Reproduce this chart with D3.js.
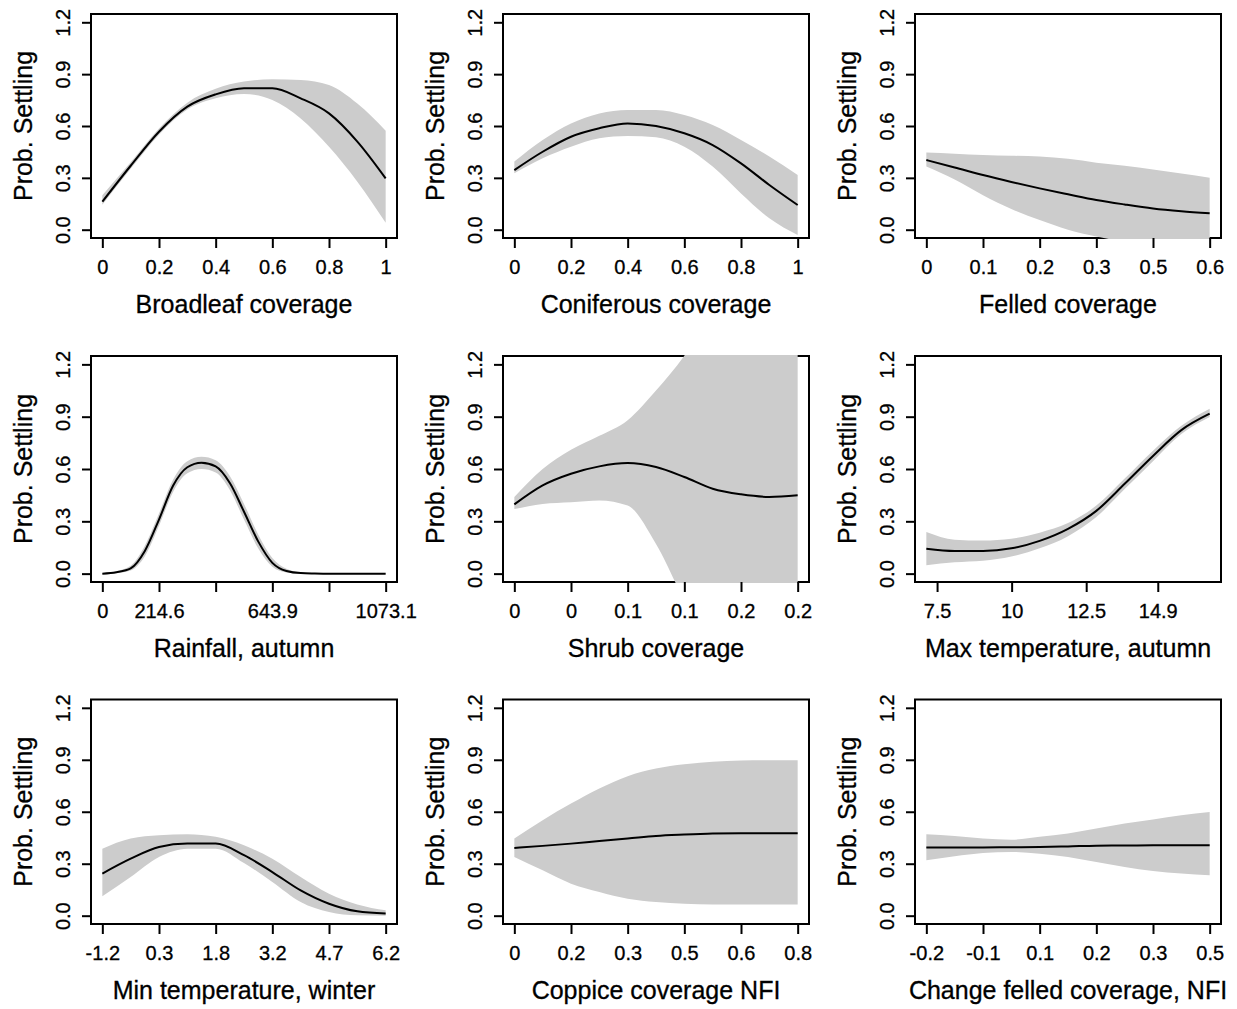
<!DOCTYPE html>
<html>
<head>
<meta charset="utf-8">
<script src="https://cdn.jsdelivr.net/npm/d3@7"></script>
<style>
  html, body { margin: 0; padding: 0; background: #fff; }
  svg { display: block; }
  text { font-family: "Liberation Sans", Arial, sans-serif; fill: #000; }
</style>
</head>
<body>
<svg id="chart" width="1237" height="1009"></svg>
<script>
// ---------------- DATA ----------------
const yTicks = [0.0, 0.3, 0.6, 0.9, 1.2];
const yTickLabels = ["0.0", "0.3", "0.6", "0.9", "1.2"];
const yLabel = "Prob. Settling";

// 1. Broadleaf coverage
const broadleafX   = [0, 0.1, 0.2, 0.3, 0.4, 0.5, 0.6, 0.7, 0.8, 0.9, 1.0];
const broadleafFit = [0.162, 0.37, 0.567, 0.712, 0.783, 0.818, 0.818, 0.76, 0.673, 0.51, 0.297];
const broadleafHi  = [0.2, 0.39, 0.585, 0.735, 0.815, 0.857, 0.87, 0.866, 0.837, 0.73, 0.573];
const broadleafLo  = [0.145, 0.352, 0.55, 0.695, 0.76, 0.785, 0.75, 0.644, 0.48, 0.278, 0.04];
const broadleafTicks  = [0, 0.2, 0.4, 0.6, 0.8, 1];
const broadleafLabels = ["0", "0.2", "0.4", "0.6", "0.8", "1"];

// 2. Coniferous coverage
const coniferousX   = [0, 0.1, 0.2, 0.3, 0.4, 0.5, 0.6, 0.7, 0.8, 0.9, 1.0];
const coniferousFit = [0.345, 0.451, 0.538, 0.587, 0.615, 0.6, 0.558, 0.49, 0.384, 0.259, 0.143];
const coniferousHi  = [0.394, 0.519, 0.615, 0.673, 0.693, 0.693, 0.664, 0.606, 0.519, 0.423, 0.316];
const coniferousLo  = [0.326, 0.413, 0.48, 0.529, 0.542, 0.535, 0.48, 0.365, 0.21, 0.066, -0.031];
const coniferousTicks  = [0, 0.2, 0.4, 0.6, 0.8, 1];
const coniferousLabels = ["0", "0.2", "0.4", "0.6", "0.8", "1"];

// 3. Felled coverage
const felledX   = [0, 0.058, 0.116, 0.174, 0.232, 0.29, 0.348, 0.406, 0.464, 0.522, 0.58];
const felledFit = [0.403, 0.36, 0.316, 0.276, 0.239, 0.205, 0.172, 0.146, 0.123, 0.107, 0.095];
const felledHi  = [0.446, 0.44, 0.432, 0.428, 0.423, 0.41, 0.388, 0.37, 0.349, 0.325, 0.301];
const felledLo  = [0.365, 0.29, 0.2, 0.12, 0.056, 0.0, -0.04, -0.07, -0.1, -0.13, -0.16];
const felledTicks  = [0, 0.116, 0.232, 0.348, 0.464, 0.58];
const felledLabels = ["0", "0.1", "0.2", "0.3", "0.5", "0.6"];

// 4. Rainfall, autumn
const rainX   = [0, 53.7, 107.3, 161.0, 214.6, 268.3, 321.9, 375.6, 429.2, 482.9, 536.6,
                 590.2, 643.9, 697.5, 751.2, 804.8, 858.5, 912.1, 965.8, 1019.4, 1073.1];
const rainFit = [0, 0.008, 0.03, 0.13, 0.31, 0.505, 0.61, 0.636, 0.615, 0.52, 0.355,
                 0.185, 0.062, 0.015, 0.003, 0.001, 0, 0, 0, 0, 0];
const rainHi  = [0.002, 0.015, 0.045, 0.16, 0.345, 0.54, 0.645, 0.67, 0.65, 0.56, 0.4,
                 0.225, 0.09, 0.028, 0.007, 0.002, 0.001, 0.001, 0.001, 0.001, 0.001];
const rainLo  = [0, 0.003, 0.018, 0.1, 0.275, 0.47, 0.575, 0.6, 0.58, 0.48, 0.31,
                 0.145, 0.04, 0.007, 0.001, 0, 0, 0, 0, 0, 0];
const rainTicks  = [0, 214.6, 429.2, 643.9, 858.5, 1073.1];
const rainLabels = ["0", "214.6", "", "643.9", "", "1073.1"];

// 5. Shrub coverage
const shrubX   = [0, 0.022, 0.044, 0.066, 0.088, 0.11, 0.132, 0.154, 0.176, 0.198, 0.22];
const shrubFit = [0.397, 0.506, 0.573, 0.615, 0.634, 0.611, 0.554, 0.487, 0.455, 0.44, 0.449];
const shrubHi  = [0.44, 0.6, 0.71, 0.79, 0.88, 1.05, 1.25, 1.5, 1.75, 1.95, 2.15];
const shrubLo  = [0.37, 0.4, 0.41, 0.42, 0.39, 0.17, -0.15, -0.4, -0.6, -0.8, -1.0];
const shrubTicks  = [0, 0.044, 0.088, 0.132, 0.176, 0.22];
const shrubLabels = ["0", "0", "0.1", "0.1", "0.2", "0.2"];

// 6. Max temperature, autumn
const maxTX   = [7.14, 8.09, 9.04, 9.99, 10.94, 11.89, 12.84, 13.79, 14.74, 15.69, 16.64];
const maxTFit = [0.143, 0.13, 0.13, 0.145, 0.188, 0.257, 0.36, 0.515, 0.675, 0.823, 0.917];
const maxTHi  = [0.239, 0.195, 0.19, 0.2, 0.235, 0.29, 0.39, 0.545, 0.705, 0.848, 0.946];
const maxTLo  = [0.048, 0.065, 0.074, 0.098, 0.145, 0.215, 0.325, 0.485, 0.645, 0.8, 0.898];
const maxTTicks  = [7.5, 10, 12.5, 14.9];
const maxTLabels = ["7.5", "10", "12.5", "14.9"];

// 7. Min temperature, winter
const minTX   = [-1.2, -0.46, 0.28, 1.02, 1.76, 2.5, 3.24, 3.98, 4.72, 5.46, 6.2];
const minTFit = [0.243, 0.329, 0.397, 0.416, 0.416, 0.349, 0.252, 0.146, 0.069, 0.025, 0.012];
const minTHi  = [0.387, 0.445, 0.464, 0.47, 0.455, 0.406, 0.329, 0.223, 0.127, 0.065, 0.031];
const minTLo  = [0.112, 0.223, 0.339, 0.387, 0.387, 0.304, 0.195, 0.079, 0.021, 0.002, 0.0];
const minTTicks  = [-1.2, 0.28, 1.76, 3.24, 4.72, 6.2];
const minTLabels = ["-1.2", "0.3", "1.8", "3.2", "4.7", "6.2"];

// 8. Coppice coverage NFI
const coppiceX   = [0, 0.08, 0.16, 0.24, 0.32, 0.4, 0.48, 0.56, 0.64, 0.72, 0.8];
const coppiceFit = [0.391, 0.403, 0.416, 0.431, 0.445, 0.46, 0.468, 0.474, 0.476, 0.476, 0.476];
const coppiceHi  = [0.445, 0.551, 0.647, 0.734, 0.805, 0.849, 0.874, 0.888, 0.896, 0.898, 0.898];
const coppiceLo  = [0.339, 0.262, 0.185, 0.137, 0.098, 0.079, 0.069, 0.065, 0.065, 0.065, 0.065];
const coppiceTicks  = [0, 0.16, 0.32, 0.48, 0.64, 0.8];
const coppiceLabels = ["0", "0.2", "0.3", "0.5", "0.6", "0.8"];

// 9. Change felled coverage, NFI
const changeX   = [-0.2, -0.132, -0.064, 0.004, 0.072, 0.14, 0.208, 0.276, 0.344, 0.412, 0.48];
const changeFit = [0.393, 0.393, 0.394, 0.395, 0.397, 0.4, 0.404, 0.405, 0.406, 0.406, 0.406];
const changeHi  = [0.47, 0.46, 0.445, 0.439, 0.455, 0.474, 0.503, 0.532, 0.555, 0.58, 0.599];
const changeLo  = [0.32, 0.343, 0.362, 0.368, 0.358, 0.339, 0.31, 0.281, 0.258, 0.243, 0.233];
const changeTicks  = [-0.2, -0.064, 0.072, 0.208, 0.344, 0.48];
const changeLabels = ["-0.2", "-0.1", "0.1", "0.2", "0.3", "0.5"];

const titles = ["Broadleaf coverage", "Coniferous coverage", "Felled coverage",
                "Rainfall, autumn", "Shrub coverage", "Max temperature, autumn",
                "Min temperature, winter", "Coppice coverage NFI", "Change felled coverage, NFI"];

// ---------------- BUILD ----------------
const panels = [
  {x: broadleafX, fit: broadleafFit, hi: broadleafHi, lo: broadleafLo, ticks: broadleafTicks, labels: broadleafLabels},
  {x: coniferousX, fit: coniferousFit, hi: coniferousHi, lo: coniferousLo, ticks: coniferousTicks, labels: coniferousLabels},
  {x: felledX, fit: felledFit, hi: felledHi, lo: felledLo, ticks: felledTicks, labels: felledLabels},
  {x: rainX, fit: rainFit, hi: rainHi, lo: rainLo, ticks: rainTicks, labels: rainLabels},
  {x: shrubX, fit: shrubFit, hi: shrubHi, lo: shrubLo, ticks: shrubTicks, labels: shrubLabels},
  {x: maxTX, fit: maxTFit, hi: maxTHi, lo: maxTLo, ticks: maxTTicks, labels: maxTLabels},
  {x: minTX, fit: minTFit, hi: minTHi, lo: minTLo, ticks: minTTicks, labels: minTLabels},
  {x: coppiceX, fit: coppiceFit, hi: coppiceHi, lo: coppiceLo, ticks: coppiceTicks, labels: coppiceLabels},
  {x: changeX, fit: changeFit, hi: changeHi, lo: changeLo, ticks: changeTicks, labels: changeLabels}
];

const colLeft = [91, 503, 915];
const boxW = 306;
const rowTop = [14, 356, 699.5];
const rowH = [224, 226, 224.5];

const svg = d3.select("#chart");
svg.append("rect").attr("width", 1237).attr("height", 1009).attr("fill", "#fff");
const defs = svg.append("defs");

panels.forEach((p, i) => {
  const r = Math.floor(i / 3), c = i % 3;
  const left = colLeft[c], right = left + boxW;
  const top = rowTop[r], bottom = top + rowH[r];

  const xmin = d3.min(p.x), xmax = d3.max(p.x), xr = xmax - xmin;
  const x = d3.scaleLinear().domain([xmin - 0.04 * xr, xmax + 0.04 * xr]).range([left, right]);
  const y = d3.scaleLinear().domain([-0.048, 1.248]).range([bottom, top]);

  const g = svg.append("g");
  const data = p.x.map((v, k) => ({x: v, fit: p.fit[k], hi: p.hi[k], lo: p.lo[k]}));

  // box
  g.append("rect").attr("x", left).attr("y", top).attr("width", boxW).attr("height", rowH[r])
    .attr("fill", "none").attr("stroke", "#000").attr("stroke-width", 2);

  // clip
  const cid = "clip" + i;
  defs.append("clipPath").attr("id", cid).append("rect")
    .attr("x", left - 1).attr("y", top - 1).attr("width", boxW + 2).attr("height", rowH[r] + 2);

  const area = d3.area().x(d => x(d.x)).y0(d => y(d.lo)).y1(d => y(d.hi)).curve(d3.curveMonotoneX);
  g.append("path").datum(data).attr("d", area).attr("fill", "#cccccc")
    .attr("clip-path", `url(#${cid})`);

  const line = d3.line().x(d => x(d.x)).y(d => y(d.fit)).curve(d3.curveMonotoneX);
  g.append("path").datum(data).attr("d", line).attr("fill", "none")
    .attr("stroke", "#000").attr("stroke-width", 2).attr("clip-path", `url(#${cid})`);

  // x axis
  const xAxis = d3.axisBottom(x).tickValues(p.ticks).tickSize(10)
    .tickFormat((d, k) => p.labels[k]);
  const xg = g.append("g").attr("transform", `translate(0,${bottom})`).call(xAxis);
  xg.select(".domain").remove();
  xg.selectAll(".tick line").attr("stroke", "#000").attr("stroke-width", 2);
  xg.selectAll(".tick text").attr("y", 36).attr("dy", 0)
    .style("font-size", "20px").style("font-family", '"Liberation Sans", Arial, sans-serif')
    .attr("fill", "#000").attr("stroke", "#000").attr("stroke-width", 0.3);

  // y axis
  const yAxis = d3.axisLeft(y).tickValues(yTicks).tickSize(9).tickFormat((d, k) => yTickLabels[k]);
  const yg = g.append("g").attr("transform", `translate(${left},0)`).call(yAxis);
  yg.select(".domain").remove();
  yg.selectAll(".tick line").attr("stroke", "#000").attr("stroke-width", 2);
  yg.selectAll(".tick text")
    .attr("x", null).attr("dy", null)
    .attr("transform", "translate(-21,0) rotate(-90)")
    .attr("text-anchor", "middle").attr("y", 0)
    .style("font-size", "20px").style("font-family", '"Liberation Sans", Arial, sans-serif')
    .attr("fill", "#000").attr("stroke", "#000").attr("stroke-width", 0.3);

  // axis titles
  g.append("text").attr("x", (left + right) / 2).attr("y", bottom + 75)
    .attr("text-anchor", "middle").style("font-size", "25px")
    .attr("stroke", "#000").attr("stroke-width", 0.3).text(titles[i]);
  g.append("text").attr("transform", `translate(${left - 59.5},${(top + bottom) / 2}) rotate(-90)`)
    .attr("text-anchor", "middle").style("font-size", "25px")
    .attr("stroke", "#000").attr("stroke-width", 0.3).text(yLabel);
});
</script>
</body>
</html>
